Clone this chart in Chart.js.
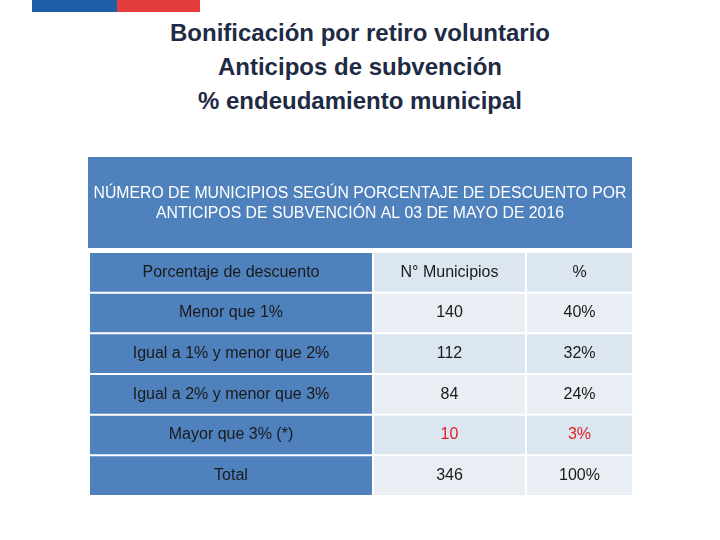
<!DOCTYPE html>
<html>
<head>
<meta charset="utf-8">
<script src="https://cdn.jsdelivr.net/npm/chart.js@4"></script>
<style>
  body { margin: 0; background: #fff; }
  #wrap { position: relative; width: 720px; height: 540px; }
  .bar { position: absolute; top: 0; height: 12px; }
  h1 { position: absolute; top: 16px; left: 0; width: 720px; margin: 0; text-align: center;
       font: bold 24px "Liberation Sans", Arial, sans-serif; line-height: 34px; color: #1f2a44; }
</style>
</head>
<body>
<div id="wrap">
  <div class="bar" style="left:32px;width:85px;background:#1f5fa8"></div>
  <div class="bar" style="left:117px;width:83px;background:#e53c3c"></div>
  <h1>Bonificación por retiro voluntario<br>Anticipos de subvención<br>% endeudamiento municipal</h1>
  <canvas id="c" width="720" height="540" style="position:absolute;left:0;top:0"></canvas>
</div>
<script>
const tableTitle = ['NÚMERO DE MUNICIPIOS SEGÚN PORCENTAJE DE DESCUENTO POR',
                    'ANTICIPOS DE SUBVENCIÓN AL 03 DE MAYO DE 2016'];
const headers = ['Porcentaje de descuento', 'N° Municipios', '%'];
const categories = ['Menor que 1%', 'Igual a 1% y menor que 2%', 'Igual a 2% y menor que 3%', 'Mayor que 3% (*)', 'Total'];
const municipios = ['140', '112', '84', '10', '346'];
const porcentajes = ['40%', '32%', '24%', '3%', '100%'];
const redRows = [3];

// column spans on the x scale (0..544)
const colSpans = [[2, 284], [286, 437], [439, 544]];
const rows = ['header'].concat(categories);
const texts = [
  [headers[0]].concat(categories),
  [headers[1]].concat(municipios),
  [headers[2]].concat(porcentajes)
];

const blue = '#4f81bd', light1 = '#dce6f1', light2 = '#e9edf4';
const datasets = colSpans.map((span, ci) => ({
  data: rows.map(() => span),
  backgroundColor: rows.map((r, ri) => ci === 0 ? blue : (ri === 0 ? light1 : (ri % 2 ? light2 : light1))),
  categoryPercentage: 1,
  barPercentage: 0.95,
  grouped: false
}));

const tablePlugin = {
  id: 'tableText',
  beforeDatasetsDraw(chart) {
    const ctx = chart.ctx;
    ctx.save();
    ctx.fillStyle = blue;
    ctx.fillRect(88, 157, 544, 91);
    ctx.fillStyle = '#fff';
    ctx.font = '15.8px "Liberation Sans", Arial, sans-serif';
    ctx.textAlign = 'center';
    ctx.textBaseline = 'middle';
    ctx.fillText(tableTitle[0], 360, 194);
    ctx.fillText(tableTitle[1], 360, 214);
    ctx.restore();
  },
  afterDatasetsDraw(chart) {
    const ctx = chart.ctx;
    ctx.save();
    ctx.textAlign = 'center';
    ctx.textBaseline = 'middle';
    ctx.font = '16px "Liberation Sans", Arial, sans-serif';
    texts.forEach((col, ci) => {
      chart.getDatasetMeta(ci).data.forEach((el, ri) => {
        const red = ci > 0 && ri > 0 && redRows.includes(ri - 1);
        ctx.fillStyle = red ? '#e02020' : '#1a1a1a';
        ctx.fillText(col[ri], el.base + (el.x - el.base) / 2, el.y);
      });
    });
    ctx.restore();
  }
};

new Chart(document.getElementById('c'), {
  type: 'bar',
  data: { labels: rows, datasets: datasets },
  options: {
    indexAxis: 'y',
    responsive: false,
    animation: false,
    layout: { padding: { left: 88, right: 88, top: 252, bottom: 44 } },
    scales: {
      x: { type: 'linear', min: 0, max: 544, display: false },
      y: { type: 'category', display: false }
    },
    plugins: { legend: { display: false }, tooltip: { enabled: false } }
  },
  plugins: [tablePlugin]
});
</script>
</body>
</html>
